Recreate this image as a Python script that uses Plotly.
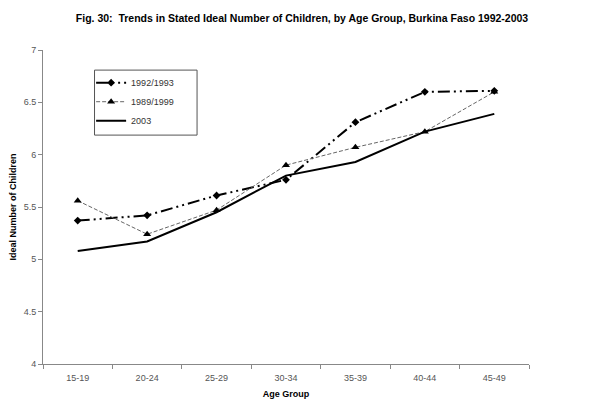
import plotly.graph_objects as go

age_groups = ["15-19", "20-24", "25-29", "30-34", "35-39", "40-44", "45-49"]
s_1992 = [5.37, 5.42, 5.61, 5.76, 6.31, 6.60, 6.61]
s_1999 = [5.56, 5.24, 5.47, 5.90, 6.07, 6.22, 6.60]
s_2003 = [5.08, 5.17, 5.45, 5.80, 5.93, 6.22, 6.39]
y_ticks = [4, 4.5, 5, 5.5, 6, 6.5, 7]

fig = go.Figure()
fig.add_trace(go.Scatter(x=age_groups, y=s_1992, name="1992/1993", mode="lines+markers",
                         line=dict(color="black", width=2, dash="12px,4px,2px,4px,2px,4px"),
                         marker=dict(symbol="diamond", size=6, color="black")))
fig.add_trace(go.Scatter(x=age_groups, y=s_1999, name="1989/1999", mode="lines+markers",
                         line=dict(color="#666666", width=1, dash="4px,2px"),
                         marker=dict(symbol="triangle-up", size=7, color="black")))
fig.add_trace(go.Scatter(x=age_groups, y=s_2003, name="2003", mode="lines",
                         line=dict(color="black", width=2)))

# legend frame drawn as a shape (paper coordinates)
fig.add_shape(type="rect", xref="paper", yref="paper", x0=0.106, x1=0.317, y0=0.729, y1=0.936,
              line=dict(color="#555555", width=1), fillcolor="rgba(0,0,0,0)", layer="above")

fig.update_layout(
    width=600, height=409,
    margin=dict(l=35, r=79, t=42, b=53),
    paper_bgcolor="white", plot_bgcolor="white",
    font=dict(family="Liberation Sans, Arial, sans-serif", size=9, color="#333333"),
    title=dict(text="<b>Fig. 30:  Trends in Stated Ideal Number of Children, by Age Group, Burkina Faso 1992-2003</b>",
               x=0.49, xanchor="center", y=0.974, yanchor="middle",
               font=dict(size=10.5, color="black")),
    legend=dict(x=0.099, y=0.942, xanchor="left", yanchor="top",
                borderwidth=0, bgcolor="rgba(0,0,0,0)",
                font=dict(size=9, color="#333333"),
                itemwidth=30),
    showlegend=True,
)
fig.update_xaxes(type="category", range=[-0.5, 6.5], showline=True, linecolor="#888888",
                 ticks="outside", tickson="boundaries", ticklen=4, tickcolor="#888888",
                 showgrid=False, automargin=False, ticklabelstandoff=5,
                 title=dict(text="<b>Age Group</b>", font=dict(size=9, color="black"), standoff=8),
                 tickfont=dict(color="#555555"))
fig.update_yaxes(range=[4, 7], tickvals=y_ticks, ticktext=[str(v) for v in y_ticks],
                 showline=True, linecolor="#888888", ticks="outside", ticklen=4,
                 tickcolor="#888888", showgrid=False, zeroline=False, automargin=False,
                 title=dict(text="<b>Ideal Number of Children</b>", font=dict(size=9, color="black"), standoff=8),
                 tickfont=dict(color="#555555"))

fig.write_html("out.html")
